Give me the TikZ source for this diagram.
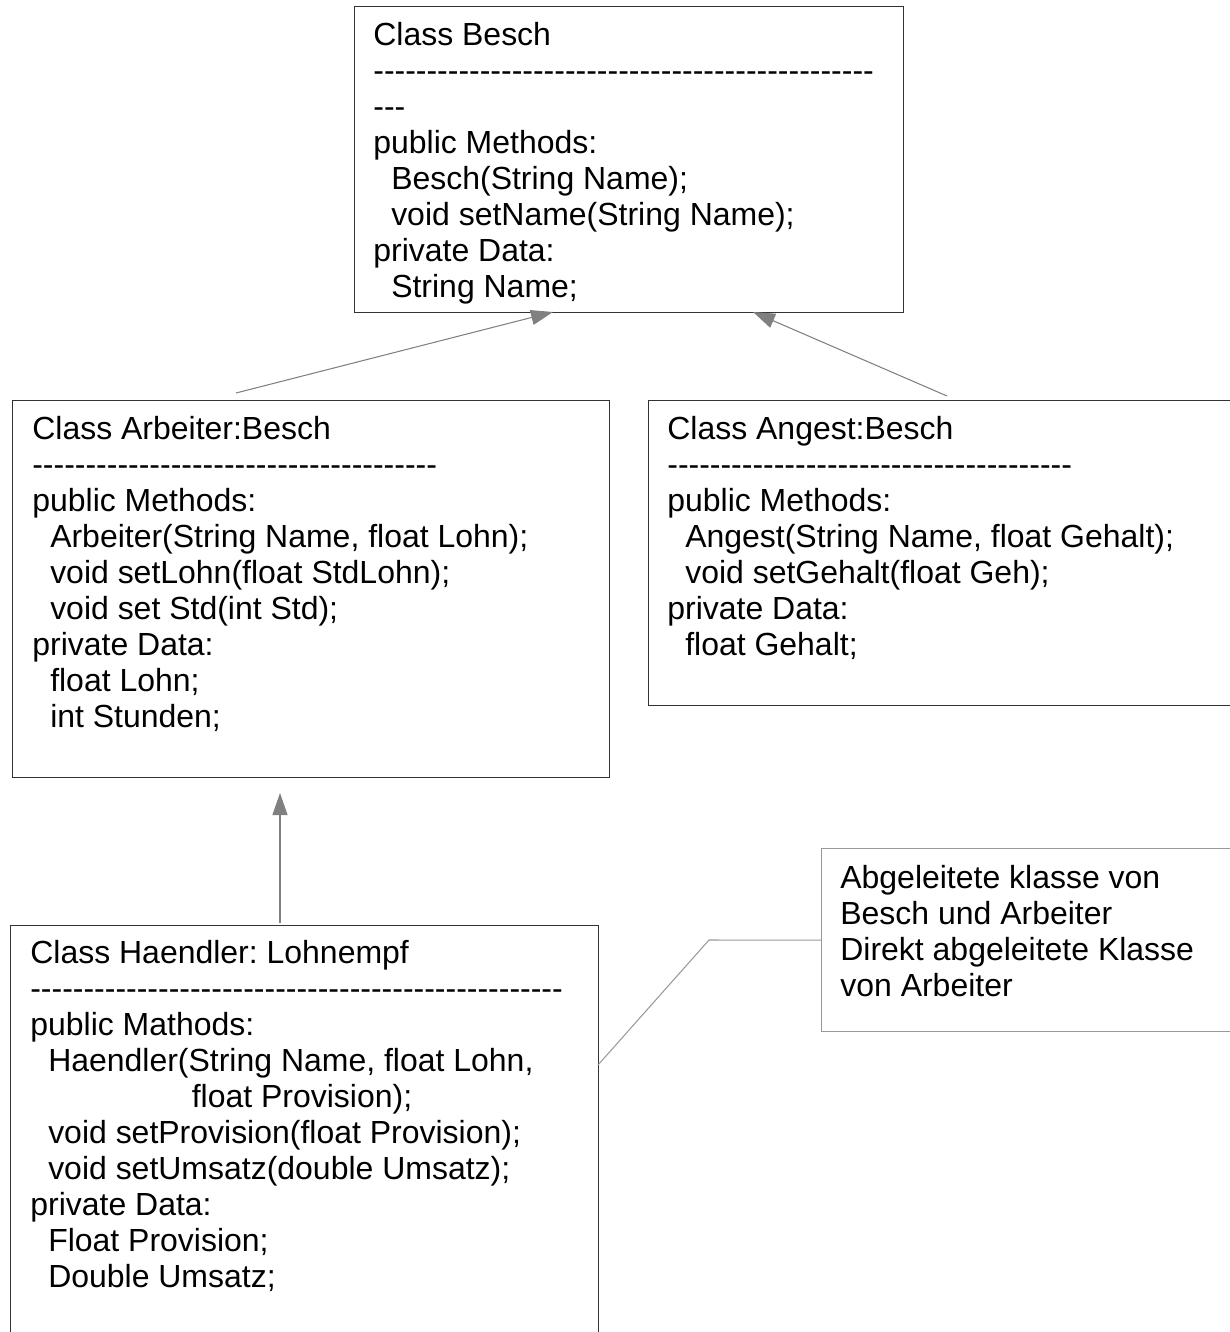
\documentclass[tikz,border=0pt]{standalone}
\usepackage{fontspec}
\newfontfamily\umlfont{Liberation Sans}
\usepackage{tikz}
\usetikzlibrary{arrows.meta}
\usetikzlibrary{positioning}
\definecolor{boxline}{HTML}{333333}
\definecolor{arrowgray}{HTML}{808080}
\definecolor{notegray}{HTML}{999999}
\tikzset{
    umlbox/.style={
        draw=boxline,
        line width=0.8pt,
        rectangle,
        anchor=north west,
        inner sep=0pt
    },
    notebox/.style={
        draw=notegray,
        line width=0.8pt,
        rectangle,
        anchor=north west,
        inner sep=0pt
    },
    umltext/.style={
        font=\umlfont\fontsize{18.2}{20.5}\selectfont\frenchspacing,
        align=left,
        inner sep=0pt
    },
    gen/.style={
        draw=arrowgray,
        line width=0.6pt,
        -{Triangle[length=0.44cm, width=0.3cm]}
    },
    noteline/.style={
        draw=notegray,
        line width=0.6pt
    }
}
\newcommand{\dashline}[1]{\foreach \d in {1,...,#1}{-}}
\newcommand{\ind}{\hspace*{0.56em}}

\begin{document}
\begin{tikzpicture}[x=0.02cm, y=-0.02cm]
    \useasboundingbox (0,0) rectangle (1230,1332);
    \clip (0,0) rectangle (1230,1332);

    % Boxes
    \node[umlbox, minimum width=10.98cm, minimum height=6.12cm] (besch) at (354,6) {};
    \node[umlbox, minimum width=11.94cm, minimum height=7.54cm] (arbeiter) at (12,400) {};
    \node[umlbox, minimum width=11.9cm, minimum height=6.1cm] (angest) at (648,400) {};
    \node[umlbox, minimum width=11.76cm, minimum height=8.6cm] (haendler) at (10,925) {};
    \node[notebox, minimum width=8.5cm, minimum height=3.66cm] (note) at (821,848) {};

    % Texts
    \node[umltext, below right=0.31cm and 0.38cm of besch.north west] (beschtxt) {%
        Class Besch\\
        \dashline{47}\\
        \dashline{3}\\
        public Methods:\\
        \ind Besch(String Name);\\
        \ind void setName(String Name);\\
        private Data:\\
        \ind String Name;};
    \node[umltext, below right=0.32cm and 0.4cm of arbeiter.north west] (arbeitertxt) {%
        Class Arbeiter:Besch\\
        \dashline{38}\\
        public Methods:\\
        \ind Arbeiter(String Name, float Lohn);\\
        \ind void setLohn(float StdLohn);\\
        \ind void set Std(int Std);\\
        private Data:\\
        \ind float Lohn;\\
        \ind int Stunden;};
    \node[umltext, below right=0.32cm and 0.38cm of angest.north west] (angesttxt) {%
        Class Angest:Besch\\
        \dashline{38}\\
        public Methods:\\
        \ind Angest(String Name, float Gehalt);\\
        \ind void setGehalt(float Geh);\\
        private Data:\\
        \ind float Gehalt;};
    \node[umltext, below right=0.3cm and 0.4cm of haendler.north west] (haendlertxt) {%
        Class Haendler: Lohnempf\\
        \dashline{50}\\
        public Mathods:\\
        \ind Haendler(String Name, float Lohn,\\
        \hspace*{5.05em}float Provision);\\
        \ind void setProvision(float Provision);\\
        \ind void setUmsatz(double Umsatz);\\
        private Data:\\
        \ind Float Provision;\\
        \ind Double Umsatz;};
    \node[umltext, below right=0.34cm and 0.38cm of note.north west] (notetxt) {%
        Abgeleitete klasse von\\
        Besch und Arbeiter\\
        Direkt abgeleitete Klasse\\
        von Arbeiter};

    % Arrows
    \coordinate (arbeitertop) at (236,393);
    \coordinate (beschleft) at (553,312);
    \coordinate (angesttop) at (947,396);
    \coordinate (beschright) at (753,312);
    \coordinate (haendlertop) at (280,923);
    \coordinate (arbeiterbot) at (280,793);
    \coordinate (haendlerright) at (598,1065);
    \coordinate (notebend) at (709,940);

    \draw[gen] (arbeitertop) -- (beschleft);
    \draw[gen] (angesttop) -- (beschright);
    \draw[gen] (haendlertop) -- (arbeiterbot);
    \draw[noteline] (haendlerright) -- (notebend) -- (note.west);
\end{tikzpicture}
\end{document}
